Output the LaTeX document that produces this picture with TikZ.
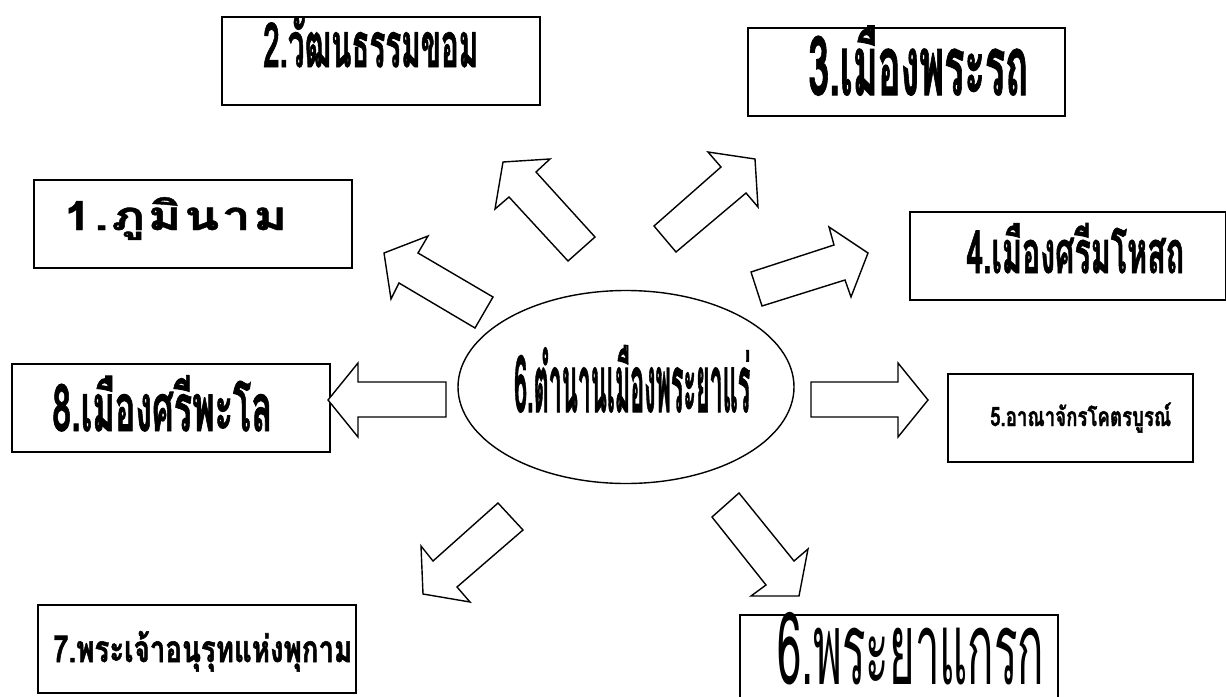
\documentclass[tikz,border=0pt]{standalone}
\usepackage{fontspec}
\usepackage{graphicx}
\usetikzlibrary{shapes.geometric}
\newfontfamily\thaifont[Script=Thai,BoldFeatures={FakeBold=1.5}]{Loma}
\newfontfamily\thaiwide[Script=Thai,LetterSpace=5,BoldFeatures={FakeBold=1}]{Loma}
\newcommand\fitlbl[3]{\raisebox{0pt}[\height][0pt]{\resizebox{#1}{!}{\scalebox{1}[#2]{#3}}}}
\begin{document}
\begin{tikzpicture}[x=1pt,y=-1pt]
\tikzset{
  box/.style={draw, line width=1.6pt, inner sep=0pt, anchor=north west, minimum height=88pt},
  blk/.style={draw, line width=1.4pt, fill=white, line join=miter},
  lbl/.style={inner sep=0pt, anchor=base west}
}
\useasboundingbox (0,0) rectangle (1226,696);
\fill[white] (0,0) rectangle (1226,696);
% boxes
\node[box, minimum width=318pt] (b1) at (33,179) {};
\node[box, minimum width=318pt] (b2) at (221,16) {};
\node[box, minimum width=317pt] (b3) at (747,27) {};
\node[box, minimum width=316pt] (b4) at (909,211) {};
\node[box, minimum width=245pt] (b5) at (947,373) {};
\node[box, minimum width=318pt, minimum height=90pt] (b6) at (739,614) {};
\node[box, minimum width=318pt] (b7) at (37,604) {};
\node[box, minimum width=318pt] (b8) at (11,363) {};
% centre ellipse
\node[draw, ellipse, line width=1.4pt, minimum width=336pt, minimum height=193pt] (c) at (626,387) {};
% labels
\node[lbl] (t1) at (63,230) {\fitlbl{224pt}{0.78}{\thaiwide\bfseries 1.ภูมินาม}};
\node[lbl] (t2) at (263,67) {\fitlbl{215pt}{2.1}{\thaifont\bfseries 2.วัฒนธรรมขอม}};
\node[lbl] (t3) at (808,95) {\fitlbl{220pt}{2.17}{\thaifont\bfseries 3.เมืองพระรถ}};
\node[lbl] (t4) at (966,273) {\fitlbl{218pt}{1.94}{\thaifont\bfseries 4.เมืองศรีมโหสถ}};
\node[lbl] (t5) at (990,426) {\fitlbl{181pt}{1.43}{\thaifont\bfseries 5.อาณาจักรโคตรบูรณ์}};
\node[lbl] (t6) at (777,684) {\fitlbl{267pt}{2.3}{\thaifont 6.พระยาแกรก}};
\node[lbl] (t7) at (53,662) {\fitlbl{299pt}{1.34}{\thaifont\bfseries 7.พระเจ้าอนุรุทแห่งพุกาม}};
\node[lbl] (t8) at (52,431) {\fitlbl{220pt}{1.92}{\thaifont\bfseries 8.เมืองศรีพะโล}};
\node[lbl] (t9) at (514,412) {\fitlbl{236pt}{3.4}{\thaifont\bfseries 6.ตำนานเมืองพระยาแร่}};
% block arrows
\draw[blk] (446,382) -- (358,382) -- (358,363) -- (328,400) -- (358,437) -- (358,417) -- (446,417) -- cycle;
\draw[blk] (811,382) -- (898,382) -- (898,363) -- (928,400) -- (898,437) -- (898,417) -- (811,417) -- cycle;
\draw[blk] (493,297) -- (418,253) -- (428,236) -- (384,253) -- (391,299) -- (399,283) -- (475,328) -- cycle;
\draw[blk] (595,237) -- (536,172) -- (550,159) -- (503,162) -- (495,209) -- (509,197) -- (568,261) -- cycle;
\draw[blk] (654,226) -- (721,167) -- (708,152) -- (755,159) -- (758,207) -- (746,193) -- (676,252) -- cycle;
\draw[blk] (751,272) -- (834,245) -- (829,227) -- (868,253) -- (851,297) -- (845,280) -- (762,306) -- cycle;
\draw[blk] (498,503) -- (433,561) -- (421,546) -- (423,594) -- (470,602) -- (457,587) -- (523,530) -- cycle;
\draw[blk] (712,517) -- (766,585) -- (751,596) -- (799,596) -- (808,549) -- (794,561) -- (739,493) -- cycle;
\end{tikzpicture}
\end{document}
